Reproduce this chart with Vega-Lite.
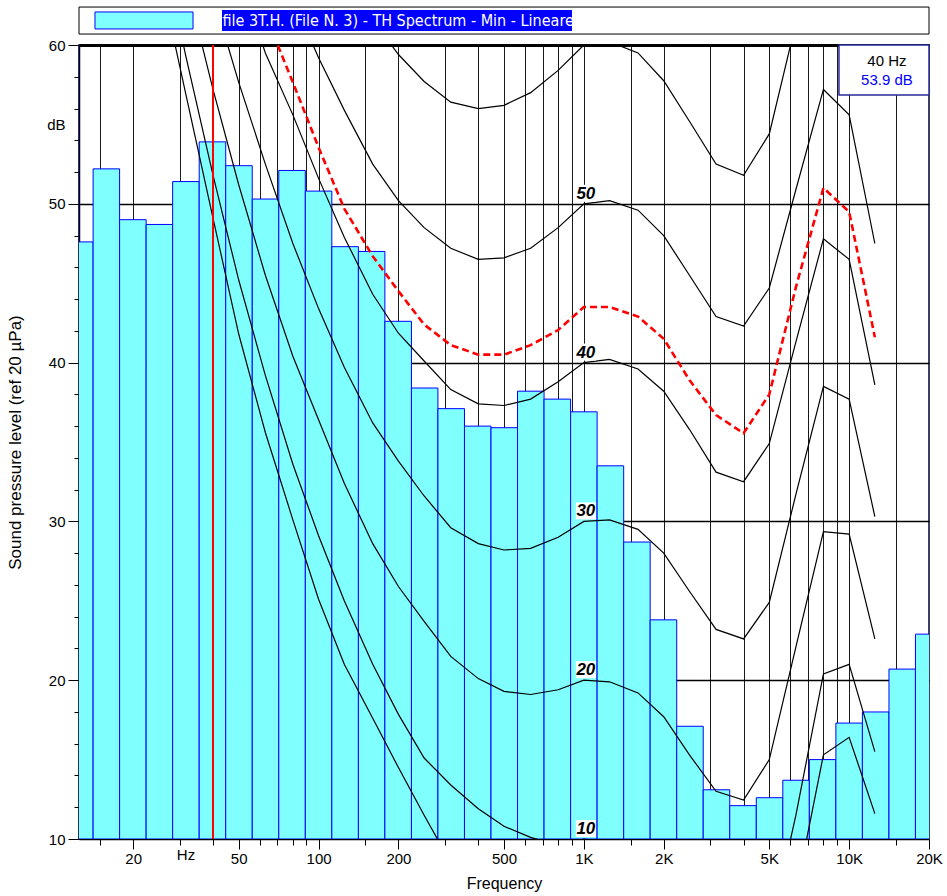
{
  "$schema": "https://vega.github.io/schema/vega-lite/v6.json",
  "width": 850,
  "height": 794,
  "autosize": {"type": "none"},
  "padding": {"left": 79, "top": 45, "right": 18, "bottom": 57},
  "background": "white",
  "config": {
    "view": {"stroke": "#000033", "strokeWidth": 1.5},
    "font": "Liberation Sans"
  },
  "resolve": {"axis": {"y": "independent"}},
  "datasets": {
    "bands": [
      {"f": 12.5, "lo": 11.22, "hi": 14.13, "db": 47.6},
      {"f": 16, "lo": 14.13, "hi": 17.78, "db": 52.2},
      {"f": 20, "lo": 17.78, "hi": 22.39, "db": 49.0},
      {"f": 25, "lo": 22.39, "hi": 28.18, "db": 48.7},
      {"f": 31.5, "lo": 28.18, "hi": 35.48, "db": 51.4},
      {"f": 40, "lo": 35.48, "hi": 44.67, "db": 53.9},
      {"f": 50, "lo": 44.67, "hi": 56.23, "db": 52.4},
      {"f": 63, "lo": 56.23, "hi": 70.79, "db": 50.3},
      {"f": 80, "lo": 70.79, "hi": 89.13, "db": 52.1},
      {"f": 100, "lo": 89.13, "hi": 112.2, "db": 50.8},
      {"f": 125, "lo": 112.2, "hi": 141.3, "db": 47.3},
      {"f": 160, "lo": 141.3, "hi": 177.8, "db": 47.0},
      {"f": 200, "lo": 177.8, "hi": 223.9, "db": 42.6},
      {"f": 250, "lo": 223.9, "hi": 281.8, "db": 38.4},
      {"f": 315, "lo": 281.8, "hi": 354.8, "db": 37.1},
      {"f": 400, "lo": 354.8, "hi": 446.7, "db": 36.0},
      {"f": 500, "lo": 446.7, "hi": 562.3, "db": 35.9},
      {"f": 630, "lo": 562.3, "hi": 707.9, "db": 38.2},
      {"f": 800, "lo": 707.9, "hi": 891.3, "db": 37.7},
      {"f": 1000, "lo": 891.3, "hi": 1122, "db": 36.9},
      {"f": 1250, "lo": 1122, "hi": 1413, "db": 33.5},
      {"f": 1600, "lo": 1413, "hi": 1778, "db": 28.7},
      {"f": 2000, "lo": 1778, "hi": 2239, "db": 23.8},
      {"f": 2500, "lo": 2239, "hi": 2818, "db": 17.1},
      {"f": 3150, "lo": 2818, "hi": 3548, "db": 13.1},
      {"f": 4000, "lo": 3548, "hi": 4467, "db": 12.1},
      {"f": 5000, "lo": 4467, "hi": 5623, "db": 12.6},
      {"f": 6300, "lo": 5623, "hi": 7079, "db": 13.7},
      {"f": 8000, "lo": 7079, "hi": 8913, "db": 15.0},
      {"f": 10000, "lo": 8913, "hi": 11220, "db": 17.3},
      {"f": 12500, "lo": 11220, "hi": 14130, "db": 18.0},
      {"f": 16000, "lo": 14130, "hi": 17780, "db": 20.7},
      {"f": 20000, "lo": 17780, "hi": 22390, "db": 22.9}
    ],
    "contours": [
      {"f": 25, "T": 64.7, "C10": 67.3},
      {"f": 31.5, "T": 57.0, "C10": 59.4, "C20": 64.2},
      {"f": 40, "T": 49.1, "C10": 51.8, "C20": 57.2, "C30": 63.1},
      {"f": 50, "T": 41.8, "C10": 45.2, "C20": 51.2, "C30": 57.65, "C40": 64.6},
      {"f": 63, "T": 35.6, "C10": 39.2, "C20": 45.5, "C30": 52.5, "C40": 59.5, "red": 61.9},
      {"f": 80, "T": 30.1, "C10": 33.6, "C20": 40.4, "C30": 47.5, "C40": 55.6, "C50": 62.9, "red": 57.65},
      {"f": 100, "T": 25.1, "C10": 29.1, "C20": 36.4, "C30": 43.4, "C40": 51.6, "C50": 59.2, "red": 53.55},
      {"f": 125, "T": 21.0, "C10": 25.0, "C20": 32.4, "C30": 39.7, "C40": 47.9, "C50": 55.9, "C60": 66.0, "red": 49.7},
      {"f": 160, "T": 17.6, "C10": 21.0, "C20": 28.6, "C30": 36.2, "C40": 44.3, "C50": 52.5, "C60": 61.6, "red": 46.7},
      {"f": 200, "T": 14.5, "C10": 17.85, "C20": 25.9, "C30": 33.8, "C40": 41.85, "C50": 50.2, "C60": 59.4, "red": 44.5},
      {"f": 250, "T": 11.5, "C10": 15.1, "C20": 23.7, "C30": 31.6, "C40": 40.1, "C50": 48.5, "C60": 57.7, "red": 42.4},
      {"f": 315, "T": 8.5, "C10": 13.4, "C20": 21.5, "C30": 29.6, "C40": 38.3, "C50": 47.2, "C60": 56.4, "red": 41.1},
      {"f": 400, "T": 6.2, "C10": 11.9, "C20": 20.1, "C30": 28.6, "C40": 37.4, "C50": 46.5, "C60": 56.0, "red": 40.5},
      {"f": 500, "T": 4.5, "C10": 10.8, "C20": 19.3, "C30": 28.2, "C40": 37.3, "C50": 46.6, "C60": 56.2, "red": 40.5},
      {"f": 630, "T": 3.0, "C10": 10.1, "C20": 19.1, "C30": 28.3, "C40": 37.7, "C50": 47.2, "C60": 57.0, "red": 41.1},
      {"f": 800, "T": 2.2, "C10": 9.6, "C20": 19.4, "C30": 29.0, "C40": 38.8, "C50": 48.5, "C60": 58.4, "red": 42.05},
      {"f": 1000, "T": 2.4, "C10": 10.0, "C20": 20.0, "C30": 30.0, "C40": 40.0, "C50": 50.0, "C60": 60.0, "red": 43.5},
      {"f": 1250, "T": 2.5, "C10": 9.8, "C20": 19.9, "C30": 30.1, "C40": 40.2, "C50": 50.2, "C60": 60.2, "red": 43.5},
      {"f": 1600, "T": 1.5, "C10": 9.0, "C20": 19.2, "C30": 29.5, "C40": 39.6, "C50": 49.6, "C60": 59.5, "red": 42.9},
      {"f": 2000, "T": -1.0, "C10": 7.5, "C20": 17.7, "C30": 28.0, "C40": 38.2, "C50": 48.0, "C60": 57.75, "red": 41.5},
      {"f": 2500, "T": -4.0, "C10": 5.0, "C20": 15.3, "C30": 25.6, "C40": 35.8, "C50": 45.5, "C60": 55.2, "red": 38.9},
      {"f": 3150, "T": -6.0, "C10": 3.0, "C20": 13.0, "C30": 23.2, "C40": 33.1, "C50": 42.9, "C60": 52.5, "red": 36.7},
      {"f": 4000, "T": -5.5, "C10": 2.5, "C20": 12.45, "C30": 22.6, "C40": 32.5, "C50": 42.3, "C60": 51.8, "red": 35.55},
      {"f": 5000, "T": -1.5, "C10": 4.0, "C20": 15.0, "C30": 24.9, "C40": 34.9, "C50": 44.7, "C60": 54.4, "red": 38.0},
      {"f": 6300, "T": 6.6, "C10": 11.5, "C20": 22.1, "C30": 31.7, "C40": 41.3, "C50": 50.9, "C60": 61.4, "red": 44.75},
      {"f": 8000, "T": 15.3, "C10": 20.4, "C20": 29.35, "C30": 38.5, "C40": 47.8, "C50": 57.2, "C60": 67.0, "red": 51.0},
      {"f": 10000, "T": 16.4, "C10": 21.0, "C20": 29.2, "C30": 37.7, "C40": 46.5, "C50": 55.6, "red": 49.5},
      {"f": 12500, "T": 11.6, "C10": 15.5, "C20": 22.6, "C30": 30.3, "C40": 38.6, "C50": 47.5, "red": 41.6}
    ],
    "phonLabels": [
      {"f": 1000, "db": 50, "t": "50"},
      {"f": 1000, "db": 40, "t": "40"},
      {"f": 1000, "db": 30, "t": "30"},
      {"f": 1000, "db": 20, "t": "20"},
      {"f": 1000, "db": 10, "t": "10"}
    ]
  },
  "layer": [
    {
      "data": {"name": "bands"},
      "mark": {"type": "rect", "fill": "#80FFFF", "stroke": "#0000FF", "strokeWidth": 1, "clip": true},
      "encoding": {
        "x": {
          "field": "lo", "type": "quantitative",
          "scale": {"type": "log", "domain": [12.5, 20000], "nice": false},
          "axis": {
            "title": "Frequency",
            "titleFontSize": 16, "titleFontWeight": "normal", "titleColor": "#000000", "titlePadding": 9,
            "values": [15, 20, 30, 31.5, 40, 50, 60, 70, 80, 90, 100, 150, 200, 300, 400, 500, 600, 700, 800, 900, 1000, 1500, 2000, 3000, 4000, 5000, 6000, 7000, 8000, 9000, 10000, 15000, 20000],
            "labelExpr": "datum.value == 31.5 ? 'Hz' : datum.value == 1000 ? '1K' : datum.value == 2000 ? '2K' : datum.value == 5000 ? '5K' : datum.value == 10000 ? '10K' : datum.value == 20000 ? '20K' : (indexof([20, 50, 100, 200, 500], datum.value) >= 0 ? '' + datum.value : '')",
            "labelFontSize": {"condition": {"test": "indexof([20, 31.5, 50, 100, 200, 500, 1000, 2000, 5000, 10000, 20000], datum.value) >= 0", "value": 15}, "value": 1},
            "labelColor": "#000000", "labelPadding": 2,
            "labelOverlap": false, "labelFlush": false, "labelBound": false,
            "domainColor": "#000000", "domainWidth": 1.5,
            "tickColor": "#000000", "tickWidth": 1,
            "tickSize": {"condition": {"test": "indexof([20, 50, 100, 200, 500, 1000, 2000, 5000, 10000, 20000], datum.value) >= 0", "value": 10}, "value": 6},
            "tickOpacity": {"condition": {"test": "datum.value == 31.5", "value": 0}, "value": 1},
            "grid": true, "gridColor": "#1a1a1a", "gridWidth": 1,
            "gridOpacity": {"condition": {"test": "datum.value == 31.5 || datum.value == 20000", "value": 0}, "value": 1}
          }
        },
        "x2": {"field": "hi"},
        "y": {
          "field": "db", "type": "quantitative",
          "scale": {"domain": [10, 60], "nice": false, "zero": false},
          "axis": {
            "orient": "left",
            "title": "Sound pressure level (ref 20 µPa)",
            "titleFontSize": 17, "titleFontWeight": "normal", "titleColor": "#000000", "titlePadding": 22,
            "values": [10, 20, 30, 40, 50, 55, 60],
            "labelExpr": "datum.value == 55 ? 'dB' : '' + datum.value",
            "labelFontSize": 15,
            "labelColor": "#000000", "labelPadding": 3, "labelOverlap": false, "labelFlush": false, "labelBound": false,
            "domainColor": "#000033", "domainWidth": 1.5,
            "tickColor": "#000000", "tickWidth": 1, "tickSize": 11,
            "tickOpacity": {"condition": {"test": "datum.value == 55", "value": 0}, "value": 1},
            "grid": true, "gridColor": "#000000",
            "gridWidth": {"condition": {"test": "datum.value == 60", "value": 3}, "value": 1.5},
            "gridOpacity": {"condition": {"test": "datum.value > 10 && datum.value != 55", "value": 1}, "value": 0}
          }
        },
        "y2": {"datum": 10}
      }
    },
    {
      "data": {"name": "contours"},
      "transform": [
        {"fold": ["T", "C10", "C20", "C30", "C40", "C50", "C60"], "as": ["curve", "db"]},
        {"filter": "isValid(datum.db)"}
      ],
      "mark": {"type": "line", "color": "#000000", "strokeWidth": 1.2, "clip": true},
      "encoding": {
        "x": {"field": "f", "type": "quantitative"},
        "y": {
          "field": "db", "type": "quantitative",
          "axis": {
            "orient": "left", "title": null, "labels": false, "domain": false, "grid": false,
            "values": [12, 14, 16, 18, 22, 24, 26, 28, 32, 34, 36, 38, 42, 44, 46, 48, 52, 54, 56, 58],
            "tickColor": "#000000", "tickWidth": 1, "tickSize": 5
          }
        },
        "detail": {"field": "curve", "type": "nominal"}
      }
    },
    {
      "data": {"name": "contours"},
      "transform": [
        {"filter": "isValid(datum.red)"}
      ],
      "mark": {"type": "line", "color": "#FF0000", "strokeWidth": 2.6, "strokeDash": [7, 4], "clip": true},
      "encoding": {
        "x": {"field": "f", "type": "quantitative"},
        "y": {"field": "red", "type": "quantitative", "axis": null}
      }
    },
    {
      "data": {"values": [{"cursor": 40}]},
      "mark": {"type": "rule", "color": "#FF0000", "strokeWidth": 2},
      "encoding": {
        "x": {"field": "cursor", "type": "quantitative"}
      }
    },
    {
      "data": {"name": "phonLabels"},
      "mark": {"type": "point", "shape": "M-1,-0.85L1,-0.85L1,0.85L-1,0.85Z", "size": 400, "filled": true, "fill": "#FFFFFF", "strokeWidth": 0, "opacity": 1, "yOffset": -10.5, "xOffset": 2},
      "encoding": {
        "x": {"field": "f", "type": "quantitative"},
        "y": {"field": "db", "type": "quantitative", "axis": null}
      }
    },
    {
      "data": {"name": "phonLabels"},
      "mark": {"type": "text", "font": "Liberation Sans", "fontSize": 17, "fontWeight": "bold", "fontStyle": "italic", "color": "#000000", "align": "center", "baseline": "alphabetic", "yOffset": -5, "xOffset": 2},
      "encoding": {
        "x": {"field": "f", "type": "quantitative"},
        "y": {"field": "db", "type": "quantitative", "axis": null},
        "text": {"field": "t", "type": "nominal"}
      }
    },
    {
      "data": {"values": [{"k": "frame"}]},
      "mark": {"type": "rect", "fill": "#FFFFFF", "stroke": "#000000", "strokeWidth": 1, "clip": false},
      "encoding": {
        "x": {"datum": 12.5}, "x2": {"datum": 20000},
        "y": {"datum": 62.39, "axis": null}, "y2": {"datum": 60.69}
      }
    },
    {
      "data": {"values": [{"k": "swatch"}]},
      "mark": {"type": "rect", "fill": "#80FFFF", "stroke": "#0000FF", "strokeWidth": 1, "clip": false},
      "encoding": {
        "x": {"datum": 14.36}, "x2": {"datum": 33.63},
        "y": {"datum": 62.08, "axis": null}, "y2": {"datum": 61.01}
      }
    },
    {
      "data": {"values": [{"k": "highlight"}]},
      "mark": {"type": "rect", "fill": "#0000FF", "clip": false},
      "encoding": {
        "x": {"datum": 43.24}, "x2": {"datum": 902},
        "y": {"datum": 62.2, "axis": null}, "y2": {"datum": 60.88}
      }
    },
    {
      "data": {"values": [{"t": "file 3T.H. (File N. 3) - TH Spectrum - Min - Lineare"}]},
      "mark": {"type": "text", "font": "Liberation Sans Narrow, DejaVu Sans Condensed, Liberation Sans", "fontSize": 16, "color": "#FFFFFF", "align": "left", "baseline": "middle", "clip": false},
      "encoding": {
        "x": {"datum": 43.4},
        "y": {"datum": 61.54, "axis": null},
        "text": {"field": "t", "type": "nominal"}
      }
    },
    {
      "data": {"values": [{"k": "readout"}]},
      "mark": {"type": "rect", "fill": "#FFFFFF", "stroke": "#2A2A9A", "strokeWidth": 1.5, "clip": false},
      "encoding": {
        "x": {"datum": 9155}, "x2": {"datum": 20000},
        "y": {"datum": 60, "axis": null}, "y2": {"datum": 56.85}
      }
    },
    {
      "data": {"values": [{"t": "40 Hz", "c": "a"}]},
      "mark": {"type": "text", "fontSize": 15, "color": "#000000", "align": "center", "baseline": "middle"},
      "encoding": {
        "x": {"datum": 13883},
        "y": {"datum": 59.0, "axis": null},
        "text": {"field": "t", "type": "nominal"}
      }
    },
    {
      "data": {"values": [{"t": "53.9 dB", "c": "b"}]},
      "mark": {"type": "text", "fontSize": 15, "color": "#0000FF", "align": "center", "baseline": "middle"},
      "encoding": {
        "x": {"datum": 13883},
        "y": {"datum": 57.8, "axis": null},
        "text": {"field": "t", "type": "nominal"}
      }
    }
  ]
}
